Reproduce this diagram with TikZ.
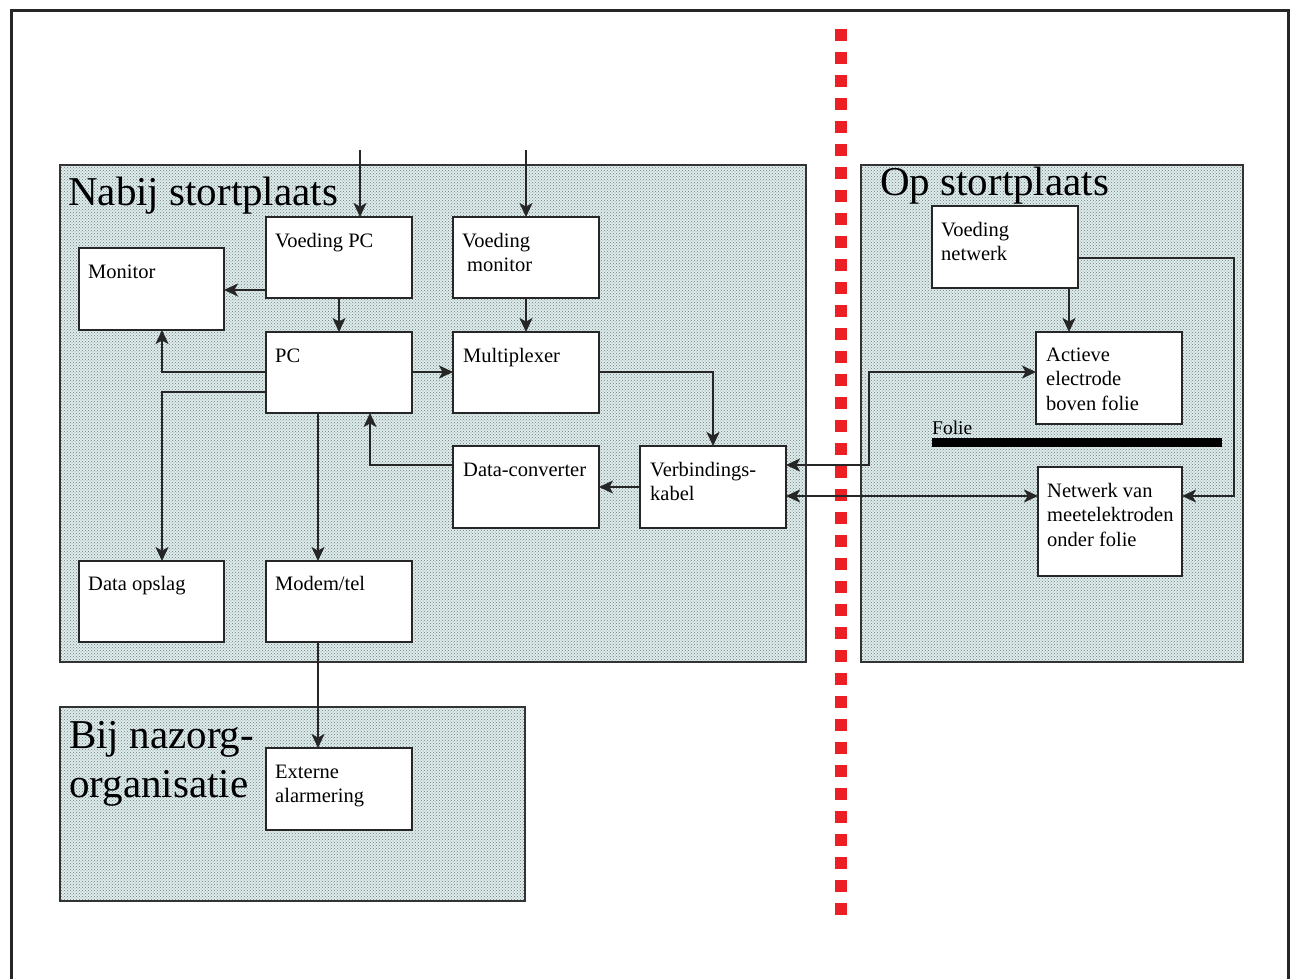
\documentclass[tikz,border=0pt]{standalone}
\usepackage{fontspec}
\setmainfont{Liberation Serif}
\usetikzlibrary{arrows.meta,patterns}
\definecolor{boxbg}{RGB}{222,236,236}
\definecolor{dotgray}{RGB}{110,126,126}
\definecolor{redline}{RGB}{236,32,36}
\begin{document}
\begin{tikzpicture}[x=1pt,y=-1pt,
  region/.style={draw=black!80,line width=1.4pt,preaction={fill=boxbg},pattern=crosshatch dots,pattern color=dotgray,inner sep=0,outer sep=0},
  blk/.style={draw=black!85,line width=1.6pt,fill=white,minimum width=146pt,minimum height=81pt,inner sep=0,outer sep=0},
  txt/.style={anchor=base west,inner sep=0,align=left,font=\fontsize{20.5}{24.5}\selectfont},
  ttl/.style={anchor=base west,inner sep=0,align=left,font=\fontsize{41}{49}\selectfont},
  tip/.style={Stealth[length=14pt,width=13pt,inset=3.5pt]},
  arr/.style={draw=black!85,line width=1.6pt,-{Stealth[length=14pt,width=13pt,inset=3.5pt]}},
  arrb/.style={draw=black!85,line width=1.6pt,{Stealth[length=14pt,width=13pt,inset=3.5pt]}-{Stealth[length=14pt,width=13pt,inset=3.5pt]}}]
\useasboundingbox (0,0) rectangle (1292,979);
\fill[white] (0,0) rectangle (1292,979);
\draw[line width=3pt,black!85] (11,979) -- (11,11) -- (1288,11) -- (1288,979);

% regions
\node[region,minimum width=746pt,minimum height=497pt] (nabij) at (433,413.5) {};
\node[region,minimum width=382pt,minimum height=497pt] (op) at (1052,413.5) {};
\node[region,minimum width=465pt,minimum height=194pt] (bij) at (292.5,804) {};
\node[ttl] at (68,205) {Nabij stortplaats};
\node[ttl] at (880,195) {Op stortplaats};
\node[ttl] at (69,797) {Bij nazorg-\\organisatie};

% red divider
\draw[redline,line width=12pt,dash pattern=on 12pt off 11pt] (841,29) -- (841,916);

% blocks
\node[blk] (vpc) at (339,257.5) {};
\node[blk] (vmon) at (526,257.5) {};
\node[blk,minimum width=145pt,minimum height=82pt] (mon) at (151.5,289) {};
\node[blk] (pc) at (339,372.5) {};
\node[blk] (mux) at (526,372.5) {};
\node[blk,minimum height=82pt] (dc) at (526,487) {};
\node[blk,minimum height=82pt] (vk) at (713,487) {};
\node[blk,minimum width=145pt] (dop) at (151.5,601.5) {};
\node[blk] (mod) at (339,601.5) {};
\node[blk,minimum height=82pt] (ext) at (339,789) {};
\node[blk,minimum height=82pt] (vn) at (1005,247) {};
\node[blk,minimum height=92pt] (act) at (1109,378) {};
\node[blk,minimum width=144pt,minimum height=109pt] (net) at (1110,521.5) {};

% texts (multi-line nodes are anchored at their last baseline)
\node[txt] at (275,247) {Voeding PC};
\node[txt] at (462,271.5) {Voeding\\\hspace*{5pt}monitor};
\node[txt] at (88,278) {Monitor};
\node[txt] at (275,362) {PC};
\node[txt] at (463,362) {Multiplexer};
\node[txt] at (463,476) {Data-converter};
\node[txt] at (650,500.5) {Verbindings-\\kabel};
\node[txt] at (88,590) {Data opslag};
\node[txt] at (275,590) {Modem/tel};
\node[txt] at (275,802.5) {Externe\\alarmering};
\node[txt] at (941,260.5) {Voeding\\netwerk};
\node[txt] at (1046,410) {Actieve\\electrode\\boven folie};
\node[txt] at (1047,546) {Netwerk van\\meetelektroden\\onder folie};

% folie
\node[txt,font=\fontsize{19.5}{23}\selectfont] (folielbl) at (932,434) {Folie};
\fill[black] (932,438) rectangle (1222,447);

% connectors
\coordinate (in1) at (360,150);
\coordinate (in2) at (526,150);
\draw[arr] (in1) -- (in1 |- vpc.north);
\draw[arr] (in2) -- (in2 |- vmon.north);
\draw[arr] (vpc.west |- 0,290) -- (mon.east |- 0,290);
\draw[arr] (vpc.south) -- (pc.north);
\draw[arr] (vmon.south) -- (mux.north);
\draw[arr] (pc.west |- 0,372) -| (mon.south -| 162,0);
\draw[arr] (pc.west |- 0,392) -| (dop.north -| 162,0);
\draw[arr] (pc.south -| 318,0) -- (mod.north -| 318,0);
\draw[arr] (pc.east |- 0,372) -- (mux.west |- 0,372);
\draw[arr] (mux.east |- 0,372) -| (vk.north);
\draw[arr] (vk.west) -- (dc.east);
\draw[arr] (dc.west |- 0,465) -| (pc.south -| 370,0);
\coordinate (bend) at (869,372);
\draw[arrb] (vk.east |- 0,465) -| (bend) -- (act.west |- bend);
\draw[arrb] (vk.east |- 0,496) -- (net.west |- 0,496);
\draw[arr] (vn.south -| 1069,0) -- (act.north -| 1069,0);
\coordinate (corner) at (1234,258);
\draw[arr] (vn.east |- corner) -- (corner) |- (net.east |- 0,496);
\draw[arr] (mod.south -| 318,0) -- (ext.north -| 318,0);
\end{tikzpicture}
\end{document}
